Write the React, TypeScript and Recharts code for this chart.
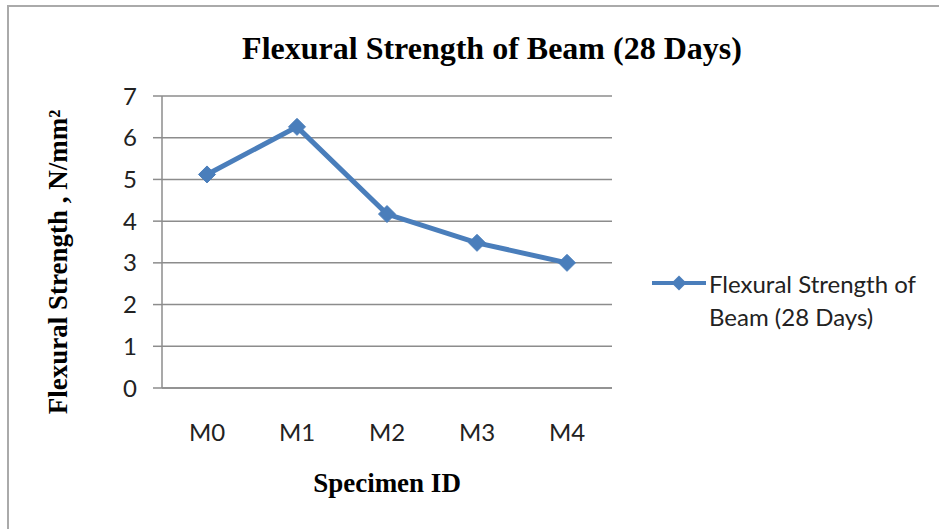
import { LineChart, Line, XAxis, YAxis, CartesianGrid } from 'recharts';

const specimens = ['M0', 'M1', 'M2', 'M3', 'M4'];
const strength28 = [5.12, 6.26, 4.17, 3.48, 3.0];
const yTicks = [0, 1, 2, 3, 4, 5, 6, 7];

const seriesName = 'Flexural Strength of Beam (28 Days)';
const blue = '#4A7EBB';
const grid = '#8c8c8c';
const serif = '"Liberation Serif", "Times New Roman", serif';
const sans = 'Lato, sans-serif';

const data = specimens.map((id, i) => ({ id, value: strength28[i] }));

function Diamond(props: any) {
  const { cx, cy, index } = props;
  if (cx == null || cy == null) return null;
  const r = 8.5;
  return (
    <path
      key={`d-${index}`}
      d={`M${cx},${cy - r}L${cx + r},${cy}L${cx},${cy + r}L${cx - r},${cy}Z`}
      fill={blue}
      stroke={blue}
    />
  );
}

function YLabel() {
  return (
    <text
      x={58}
      y={262}
      transform="rotate(-90 58 262)"
      textAnchor="middle"
      dominantBaseline="central"
      style={{ fontFamily: serif, fontWeight: 'bold', fontSize: 27, fill: '#000' }}
    >
      Flexural Strength , N/mm²
    </text>
  );
}

function LegendBox() {
  return (
    <div
      style={{
        position: 'absolute',
        left: 652,
        top: 267,
        display: 'flex',
        alignItems: 'flex-start',
        fontFamily: sans,
        fontSize: 24,
        color: '#222',
      }}
    >
      <svg width={54} height={32} style={{ flexShrink: 0 }}>
        <line x1={0} y1={16} x2={54} y2={16} stroke={blue} strokeWidth={4} />
        <path d="M27,8.5L34.5,16L27,23.5L19.5,16Z" fill={blue} />
      </svg>
      <div style={{ lineHeight: '33px', marginTop: 0, marginLeft: 3, whiteSpace: 'nowrap' }}>
        <div>Flexural Strength of</div>
        <div>Beam (28 Days)</div>
      </div>
    </div>
  );
}

export default function App() {
  return (
    <div style={{ position: 'absolute', left: 0, top: 0, width: 939, height: 529, background: '#fff', overflow: 'hidden' }}>
      <div
        style={{
          position: 'absolute',
          left: 7,
          top: 5,
          width: 940,
          height: 540,
          borderTop: '2px solid #aaa',
          borderLeft: '2px solid #aaa',
        }}
      />
      <div
        style={{
          position: 'absolute',
          left: 0,
          width: 984,
          top: 29,
          lineHeight: '38px',
          textAlign: 'center',
          fontFamily: serif,
          fontWeight: 'bold',
          fontSize: 32,
          color: '#000',
        }}
      >
        {seriesName}
      </div>
      <LineChart
        width={939}
        height={529}
        data={data}
        margin={{ top: 96, right: 327, bottom: 0, left: 0 }}
        style={{ position: 'absolute', left: 0, top: 0 }}
      >
        <CartesianGrid horizontal vertical={false} stroke={grid} strokeWidth={1.5} />
        <XAxis
          dataKey="id"
          height={141}
          padding={{ left: 45, right: 45 }}
          axisLine={{ stroke: grid, strokeWidth: 1.5 }}
          tickLine={false}
          tickSize={0}
          tickMargin={36}
          tick={{ fill: '#222', fontFamily: sans, fontSize: 24 }}
          label={{
            value: 'Specimen ID',
            position: 'insideBottom',
            offset: 37,
            style: { fontFamily: serif, fontWeight: 'bold', fontSize: 27, fill: '#000' },
          }}
        />
        <YAxis
          width={162}
          domain={[0, 7]}
          ticks={yTicks}
          interval={0}
          axisLine={{ stroke: grid, strokeWidth: 1.5 }}
          tickLine={{ stroke: grid, strokeWidth: 1.5 }}
          tickSize={9}
          tickMargin={16}
          tick={{ fill: '#222', fontFamily: sans, fontSize: 24 }}
          label={{ content: () => <YLabel /> }}
        />
        <Line
          type="linear"
          dataKey="value"
          name={seriesName}
          stroke={blue}
          strokeWidth={5}
          dot={Diamond}
          activeDot={false}
          isAnimationActive={false}
        />
      </LineChart>
      <LegendBox />
    </div>
  );
}
